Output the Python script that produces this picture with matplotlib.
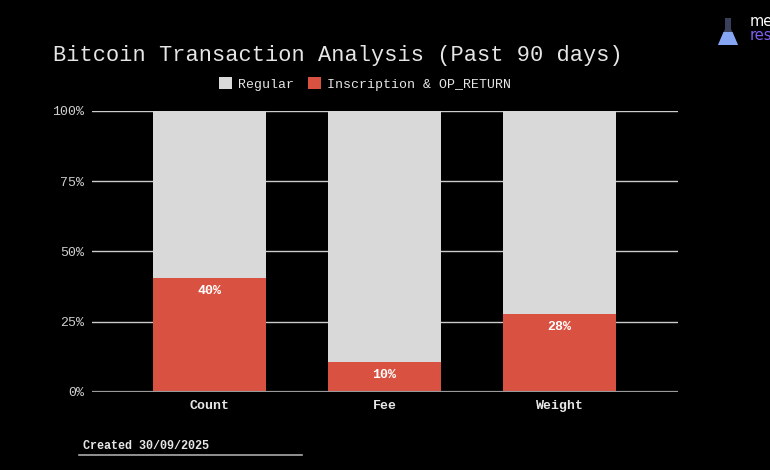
import matplotlib
matplotlib.use("Agg")
import matplotlib.pyplot as plt
from matplotlib.patches import Patch, Polygon
from matplotlib.ticker import PercentFormatter

# valeurs
categories = ["Count", "Fee", "Weight"]
inscription = [40.4, 10.6, 27.6]
regular = [100 - v for v in inscription]
bar_labels = ["40%", "10%", "28%"]
y_ticks = [0, 25, 50, 75, 100]

RED = "#d95140"
GREY = "#d9d9d9"
TXT = "#e6e6e6"

plt.rcParams["font.family"] = ["Liberation Mono", "DejaVu Sans Mono"]

fig = plt.figure(figsize=(7.7, 4.7), dpi=100, facecolor="black")
ax = fig.add_axes([0.119, 0.166, 0.7615, 0.598], facecolor="black")

x = list(range(len(categories)))
ax.bar(x, inscription, width=0.65, color=RED, zorder=3)
ax.bar(x, regular, width=0.65, bottom=inscription, color=GREY, zorder=3)

for xi, v, lab in zip(x, inscription, bar_labels):
    ax.annotate(lab, (xi, v), xytext=(0, -9), textcoords="offset points",
                ha="center", va="center", color="white", fontsize=9.5,
                fontweight="bold")

ax.set_xlim(-0.673, 2.677)
ax.set_ylim(0, 100)
ax.set_yticks(y_ticks)
ax.yaxis.set_major_formatter(PercentFormatter(decimals=0))
ax.set_xticks(x)
ax.set_xticklabels(categories, fontweight="bold", fontsize=9.5, color=TXT)
ax.tick_params(axis="y", length=0, pad=5.5, labelsize=9.5, labelcolor="#cfcfcf")
ax.tick_params(axis="x", length=0, pad=6)
ax.grid(axis="y", color="#cccccc", linewidth=1.0, zorder=1)
for s in ax.spines.values():
    s.set_visible(False)
ax.axhline(0, color="#999999", linewidth=1.6, zorder=4)

fig.text(0.069, 0.871, "Bitcoin Transaction Analysis (Past 90 days)",
         color=TXT, fontsize=15.85, ha="left", va="baseline")

handles = [Patch(facecolor=GREY, label="Regular"),
           Patch(facecolor=RED, label="Inscription & OP_RETURN")]
fig.legend(handles=handles, loc="center", bbox_to_anchor=(0.474, 0.821),
           ncol=2, frameon=False, fontsize=9.5, labelcolor=TXT,
           handlelength=1.0, handleheight=1.0, handletextpad=0.5,
           columnspacing=1.0)

fig.text(0.108, 0.051, "Created 30/09/2025", color=TXT, fontsize=8.5,
         ha="left", va="center", fontweight="bold")
fig.add_artist(plt.Line2D([0.103, 0.392], [0.032, 0.032], color="#aaaaaa",
                          linewidth=1.2, transform=fig.transFigure))

# logo (coupé sur le bord droit)
def px(x, y):
    return (x / 770, 1 - y / 470)

neck = [px(725, 18), px(731, 18), px(731, 29), px(738, 45), px(718, 45), px(725, 29)]
fig.add_artist(Polygon(neck, closed=True, facecolor="#3a3f5c", edgecolor="none",
                       transform=fig.transFigure))
liquid = [px(723.5, 32), px(732.5, 32), px(738, 45), px(718, 45)]
fig.add_artist(Polygon(liquid, closed=True, facecolor="#86a6f4", edgecolor="none",
                       transform=fig.transFigure))
fig.text(750 / 770, 1 - 28.5 / 470, "me", color="white", fontsize=10.5,
         family="DejaVu Sans", ha="left", va="bottom")
fig.text(750 / 770, 1 - 28.5 / 470, "res", color="#8060f0", fontsize=10.5,
         family="DejaVu Sans", ha="left", va="top")

fig.savefig("out.png", dpi=100, facecolor="black")
